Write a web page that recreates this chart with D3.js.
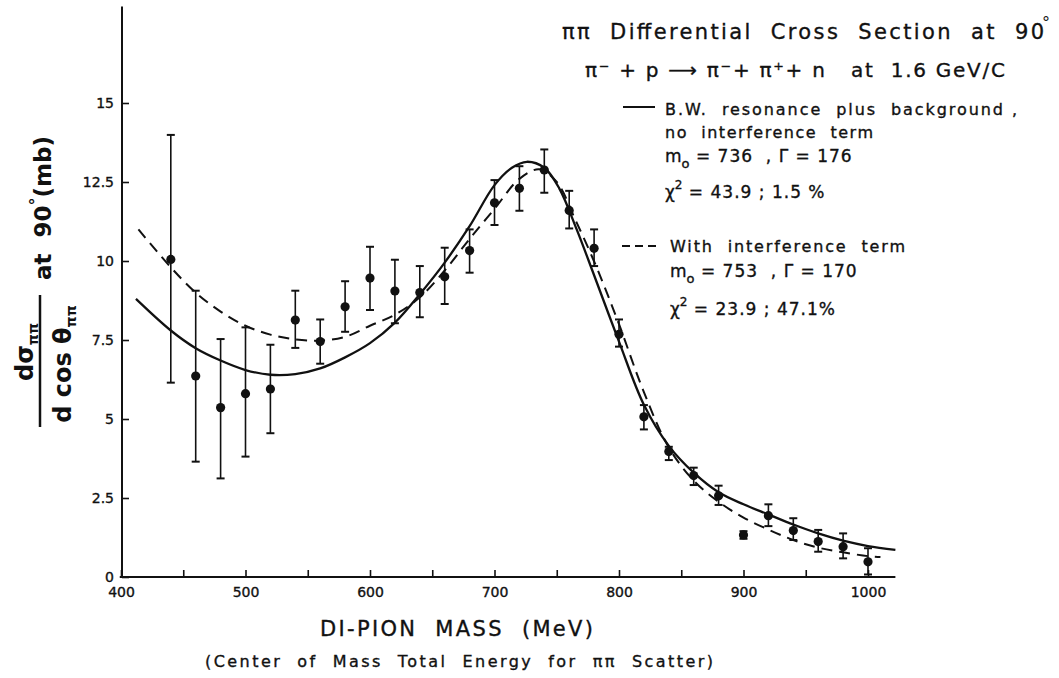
<!DOCTYPE html>
<html>
<head>
<meta charset="utf-8">
<script src="https://cdn.jsdelivr.net/npm/d3@7/dist/d3.min.js"></script>
<style>
  html, body { margin: 0; padding: 0; background: #fff; }
  svg { display: block; }
  text { fill: #111; font-family: "DejaVu Sans", sans-serif; white-space: pre; }
  text.ink { stroke: #111; stroke-width: 0.35; }
</style>
</head>
<body>
<svg id="chart" width="1059" height="678"></svg>
<script>
// Di-pion mass bins (MeV) and measured cross sections (mb) with error bar limits
const mass = [440, 460, 480, 500, 520, 540, 560, 580, 600, 620, 640, 660, 680, 700, 720,
              740, 760, 780, 800, 820, 840, 860, 880, 900, 920, 940, 960, 980, 1000];
const xsec = [10.05, 6.36, 5.36, 5.80, 5.95, 8.13, 7.45, 8.55, 9.46, 9.05, 9.00, 9.50, 10.33, 11.84, 12.30,
              12.88, 11.60, 10.40, 7.68, 5.07, 3.97, 3.21, 2.57, 1.33, 1.94, 1.47, 1.12, 0.96, 0.48];
const errLow = [6.15, 3.65, 3.12, 3.81, 4.55, 7.25, 6.75, 7.76, 8.45, 8.03, 8.22, 8.64, 9.63, 11.14, 11.59,
                12.16, 11.03, 9.84, 7.29, 4.67, 3.70, 2.91, 2.28, 1.21, 1.61, 1.17, 0.80, 0.59, 0.08];
const errHigh = [13.99, 9.06, 7.53, 7.90, 7.35, 9.06, 8.15, 9.36, 10.45, 10.04, 9.84, 10.42, 11.00, 12.56, 13.00,
                 13.53, 12.22, 11.00, 8.15, 5.44, 4.12, 3.46, 2.89, 1.45, 2.30, 1.86, 1.49, 1.38, 0.91];

// Breit-Wigner fit without interference term (solid)
const bwMass = [412, 440, 460, 480, 500, 520, 540, 560, 580, 600, 620, 640, 660, 680, 700, 714, 726,
                740, 752, 766, 780, 800, 820, 840, 860, 880, 900, 920, 940, 960, 980, 1000, 1022];
const bwVal  = [8.8, 7.8, 7.24, 6.85, 6.55, 6.4, 6.42, 6.6, 6.95, 7.4, 8.05, 8.95, 9.95, 11.1, 12.4, 12.95, 13.14,
                12.95, 12.3, 11.0, 9.55, 7.45, 5.45, 4.15, 3.3, 2.68, 2.3, 1.98, 1.66, 1.38, 1.15, 0.98, 0.86];

// Fit with interference term (dashed)
const intMass = [414, 440, 460, 480, 500, 520, 540, 560, 580, 600, 620, 640, 660, 680, 700, 720, 736,
                 750, 765, 782, 800, 820, 840, 860, 880, 900, 920, 940, 960, 980, 1000, 1010];
const intVal  = [11.0, 9.8, 9.0, 8.4, 7.95, 7.67, 7.52, 7.48, 7.6, 7.95, 8.3, 8.85, 9.7, 10.7, 11.65, 12.6, 12.9,
                 12.5, 11.3, 9.8, 8.0, 5.85, 4.1, 3.05, 2.38, 1.88, 1.5, 1.17, 0.93, 0.78, 0.66, 0.63];

const xTicks = [400, 450, 500, 550, 600, 650, 700, 750, 800, 850, 900, 950, 1000];
const yTicks = [0, 2.5, 5, 7.5, 10, 12.5, 15];

const svg = d3.select("#chart");

const x = d3.scaleLinear().domain([400, 1000]).range([121, 868]);
const y = d3.scaleLinear().domain([0, 15]).range([577, 103]);

// Axes with inward ticks
const xAxis = d3.axisBottom(x)
  .tickValues(xTicks)
  .tickSizeInner(-7).tickSizeOuter(0).tickPadding(10)
  .tickFormat(d => d % 100 === 0 ? String(d) : "");
const gx = svg.append("g").attr("transform", `translate(0,${y(0)})`).call(xAxis);

const yAxis = d3.axisLeft(y)
  .tickValues(yTicks)
  .tickSizeInner(-7).tickSizeOuter(0).tickPadding(8)
  .tickFormat(d => String(d));
const gy = svg.append("g").attr("transform", `translate(${x(400) + 1},0)`).call(yAxis);

[gx, gy].forEach(g => {
  g.select(".domain").remove();
  g.selectAll(".tick line").attr("stroke", "#111").attr("stroke-width", 1.6);
  g.selectAll(".tick text").attr("font-size", 14).attr("fill", "#111")
    .attr("class", "ink")
    .style("font-family", "'DejaVu Sans', sans-serif");
});

// Axis lines extended beyond the labelled range
svg.append("line")
  .attr("x1", x(399)).attr("x2", x(1022))
  .attr("y1", y(0)).attr("y2", y(0))
  .attr("stroke", "#111").attr("stroke-width", 2);
svg.append("line")
  .attr("x1", x(400) + 1).attr("x2", x(400) + 1)
  .attr("y1", y(0)).attr("y2", y(18.05))
  .attr("stroke", "#111").attr("stroke-width", 2);

// Fitted curves
const line = d3.line()
  .x(d => x(d[0])).y(d => y(d[1]))
  .curve(d3.curveCatmullRom.alpha(0.5));

svg.append("path")
  .attr("d", line(bwMass.map((m, i) => [m, bwVal[i]])))
  .attr("fill", "none").attr("stroke", "#111").attr("stroke-width", 2.3);

svg.append("path")
  .attr("d", line(intMass.map((m, i) => [m, intVal[i]])))
  .attr("fill", "none").attr("stroke", "#111").attr("stroke-width", 2)
  .attr("stroke-dasharray", "11,7");

// Error bars and data points
const pts = svg.append("g");
mass.forEach((m, i) => {
  const cx = x(m);
  pts.append("line")
    .attr("x1", cx).attr("x2", cx)
    .attr("y1", y(errLow[i])).attr("y2", y(errHigh[i]))
    .attr("stroke", "#111").attr("stroke-width", 1.6);
  [errLow[i], errHigh[i]].forEach(v => {
    pts.append("line")
      .attr("x1", cx - 4).attr("x2", cx + 4)
      .attr("y1", y(v)).attr("y2", y(v))
      .attr("stroke", "#111").attr("stroke-width", 2);
  });
  pts.append("circle")
    .attr("cx", cx).attr("cy", y(xsec[i])).attr("r", 4.6)
    .attr("fill", "#111");
});

// Titles
svg.append("text").attr("class", "ink")
  .attr("x", 562).attr("y", 39)
  .attr("font-size", 21).attr("textLength", 482).attr("lengthAdjust", "spacing")
  .text("ππ  Differential  Cross  Section  at  90");
svg.append("text")
  .attr("x", 1042).attr("y", 28).attr("font-size", 16).text("°");

svg.append("text").attr("class", "ink")
  .attr("x", 585).attr("y", 77)
  .attr("font-size", 20).attr("textLength", 420).attr("lengthAdjust", "spacing")
  .text("π⁻ + p ⟶ π⁻+ π⁺+ n   at  1.6 GeV/C");

// Legend: solid fit
svg.append("line")
  .attr("x1", 623).attr("x2", 655).attr("y1", 107).attr("y2", 107)
  .attr("stroke", "#111").attr("stroke-width", 2);
svg.append("text").attr("class", "ink")
  .attr("x", 665).attr("y", 115).attr("font-size", 16)
  .attr("textLength", 352).attr("lengthAdjust", "spacing")
  .text("B.W.  resonance  plus  background ,");
svg.append("text").attr("class", "ink")
  .attr("x", 665).attr("y", 138).attr("font-size", 16)
  .attr("textLength", 208).attr("lengthAdjust", "spacing")
  .text("no  interference  term");

function massWidth(xp, yp, m0, gamma) {
  const t = svg.append("text").attr("class", "ink")
    .attr("x", xp).attr("y", yp).attr("font-size", 17);
  t.append("tspan").text("m");
  t.append("tspan").attr("font-size", 13).attr("dy", 6).text("o");
  t.append("tspan").attr("dy", -6).attr("letter-spacing", 1).text(" = " + m0 + "  , Γ = " + gamma);
}
function chiSq(xp, yp, chi, prob) {
  const t = svg.append("text").attr("class", "ink")
    .attr("x", xp).attr("y", yp).attr("font-size", 17);
  t.append("tspan").text("χ");
  t.append("tspan").attr("font-size", 12).attr("dy", -9).text("2");
  t.append("tspan").attr("dy", 9).attr("letter-spacing", 1).text(" = " + chi + " ; " + prob);
}
massWidth(665, 162, "736", "176");
chiSq(665, 198, "43.9", "1.5 %");

// Legend: dashed fit
svg.append("line")
  .attr("x1", 622).attr("x2", 660).attr("y1", 246).attr("y2", 246)
  .attr("stroke", "#111").attr("stroke-width", 2)
  .attr("stroke-dasharray", "8,5");
svg.append("text").attr("class", "ink")
  .attr("x", 670).attr("y", 252).attr("font-size", 16)
  .attr("textLength", 235).attr("lengthAdjust", "spacing")
  .text("With  interference  term");
massWidth(670, 277, "753", "170");
chiSq(670, 315, "23.9", "47.1%");

// X axis titles
svg.append("text").attr("class", "ink")
  .attr("x", 320).attr("y", 636).attr("font-size", 21)
  .attr("textLength", 273).attr("lengthAdjust", "spacing")
  .text("DI-PION  MASS  (MeV)");
svg.append("text").attr("class", "ink")
  .attr("x", 205).attr("y", 667).attr("font-size", 16)
  .attr("textLength", 508).attr("lengthAdjust", "spacing")
  .text("(Center  of  Mass  Total  Energy  for  ππ  Scatter)");

// Y axis title: dσ/dcosθ at 90° (mb), drawn rotated
const yl = svg.append("g").attr("transform", "translate(40,361) rotate(-90)");
yl.append("line")
  .attr("x1", -66).attr("x2", 66).attr("y1", 0).attr("y2", 0)
  .attr("stroke", "#111").attr("stroke-width", 2.5);
const num = yl.append("text")
  .attr("x", 9).attr("y", -7).attr("text-anchor", "middle")
  .attr("font-size", 24).attr("font-weight", "bold");
num.append("tspan").text("dσ");
num.append("tspan").attr("font-size", 14).attr("dy", 5).text("ππ");
const den = yl.append("text")
  .attr("x", -3).attr("y", 31).attr("text-anchor", "middle")
  .attr("font-size", 24).attr("font-weight", "bold");
den.append("tspan").text("d cos θ");
den.append("tspan").attr("font-size", 14).attr("dy", 5).text("ππ");

const at = svg.append("g").attr("transform", "translate(51,208) rotate(-90)");
const atText = at.append("text").attr("x", 0).attr("y", 0)
  .attr("text-anchor", "middle").attr("font-size", 23).attr("font-weight", "bold");
atText.append("tspan").text("at  90");
atText.append("tspan").attr("font-size", 16).attr("dy", -10).text("°");
atText.append("tspan").attr("dy", 10).text("(mb)");
</script>
</body>
</html>
